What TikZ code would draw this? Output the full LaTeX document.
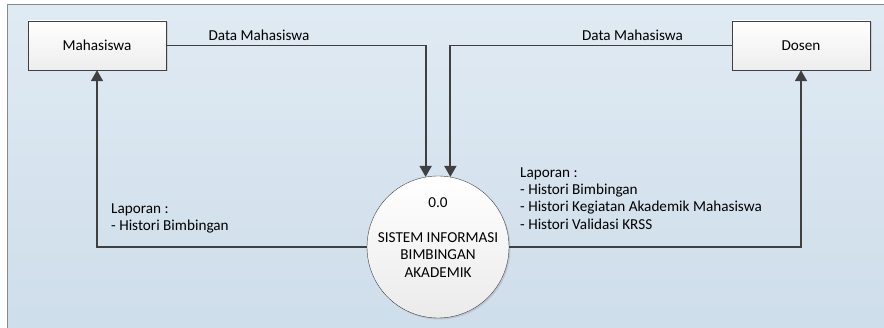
\documentclass[tikz,border=0pt]{standalone}
\usepackage{fontspec}
\setmainfont{Carlito}
\definecolor{dfdline}{HTML}{404040}
\definecolor{dfdbgtop}{HTML}{E0EAF3}
\definecolor{dfdbgbot}{HTML}{CDDDEA}
\definecolor{dfdframe}{HTML}{8A8A8A}
\usetikzlibrary{arrows.meta, shadows, positioning}

\begin{document}
\begin{tikzpicture}[x=1pt, y=-1pt,
      entity/.style={draw=dfdline, top color=white, bottom color=black!7,
                     font=\fontsize{15.2}{17}\selectfont,
                     minimum width=138pt, minimum height=49pt,
                     drop shadow={shadow xshift=1.5pt, shadow yshift=-1.5pt, opacity=0.25}},
      process/.style={circle, draw=dfdline, top color=white, bottom color=black!8,
                      minimum size=142pt, inner sep=0pt,
                      drop shadow={shadow xshift=1.5pt, shadow yshift=-1.5pt, opacity=0.25}},
      txt/.style={font=\fontsize{15.2}{17.3}\selectfont, align=left, inner sep=0pt},
      flow/.style={-{Triangle[length=11pt, width=12pt]}, line width=1.8pt, dfdline}
    ]
      \useasboundingbox (0,0) rectangle (884,328);
      \fill[top color=dfdbgtop, bottom color=dfdbgbot, draw=dfdframe, line width=1pt]
        (7,4.5) rectangle (900,345);

      \node[entity] (mhs) at (97,45.5) {Mahasiswa};
      \node[entity] (dsn) at (801,45.5) {Dosen};
      \node[process] (proc) at (438,247) {};
      \node[txt, anchor=base] (procid) at (438,208) {0.0};
      \node[txt, align=center, anchor=north, font=\fontsize{15.2}{17.5}\selectfont]
        (procname) at (438,232) {SISTEM INFORMASI\\BIMBINGAN\\AKADEMIK};

      \draw[flow] (mhs.east) -| (proc.100);
      \draw[flow] (dsn.west) -| (proc.80);
      \draw[flow] (proc.west) -| (mhs.south);
      \draw[flow] (proc.east) -| (dsn.south);

      \node[txt, anchor=base] (datamhs) at (259,40.7) {Data Mahasiswa};
      \node[txt, anchor=base] (datadsn) at (632.5,40.7) {Data Mahasiswa};
      \node[txt, anchor=north west, font=\fontsize{15.2}{17}\selectfont]
        (lapmhs) at (111,203.2) {Laporan :\\- Histori Bimbingan};
      \node[txt, anchor=north west] (lapdsn) at (520,167.2)
        {Laporan :\\- Histori Bimbingan\\- Histori Kegiatan Akademik Mahasiswa\\- Histori Validasi KRSS};
    \end{tikzpicture}
\end{document}
